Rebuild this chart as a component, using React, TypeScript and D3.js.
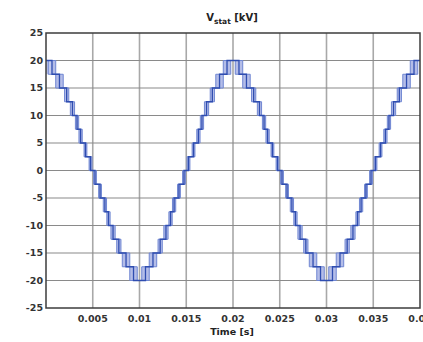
import React from 'react'
import { scaleLinear, line, curveStepAfter } from 'd3'

// step transitions of the staircase signal (ms)
const stepTimes = [
    0.64, 1.44, 2.21, 2.83, 3.32, 3.70, 4.22, 4.76, 5.24, 5.78, 6.30, 6.68, 7.17, 7.79, 8.56, 9.36,
    10.64, 11.44, 12.21, 12.83, 13.32, 13.70, 14.22, 14.76, 15.24, 15.78, 16.30, 16.68, 17.17, 17.79, 18.56, 19.36,
    20.64, 21.44, 22.21, 22.83, 23.32, 23.70, 24.22, 24.76, 25.24, 25.78, 26.30, 26.68, 27.17, 27.79, 28.56, 29.36,
    30.64, 31.44, 32.21, 32.83, 33.32, 33.70, 34.22, 34.76, 35.24, 35.78, 36.30, 36.68, 37.17, 37.79, 38.56, 39.36,
]
// level after each transition (kV)
const stepLevels = [
    17.5, 15, 12.5, 10, 7.5, 5, 2.5, 0, -2.5, -5, -7.5, -10, -12.5, -15, -17.5, -20,
    -17.5, -15, -12.5, -10, -7.5, -5, -2.5, 0, 2.5, 5, 7.5, 10, 12.5, 15, 17.5, 20,
    17.5, 15, 12.5, 10, 7.5, 5, 2.5, 0, -2.5, -5, -7.5, -10, -12.5, -15, -17.5, -20,
    -17.5, -15, -12.5, -10, -7.5, -5, -2.5, 0, 2.5, 5, 7.5, 10, 12.5, 15, 17.5, 20,
]
// spread of the overlaid traces at each transition (ms)
const stepSpread = [
    0.8, 0.8, 0.45, 0.45, 0.35, 0.35, 0.3, 0.3, 0.3, 0.3, 0.35, 0.35, 0.45, 0.45, 0.8, 0.8,
    0.8, 0.8, 0.45, 0.45, 0.35, 0.35, 0.3, 0.3, 0.3, 0.3, 0.35, 0.35, 0.45, 0.45, 0.8, 0.8,
    0.8, 0.8, 0.45, 0.45, 0.35, 0.35, 0.3, 0.3, 0.3, 0.3, 0.35, 0.35, 0.45, 0.45, 0.8, 0.8,
    0.8, 0.8, 0.45, 0.45, 0.35, 0.35, 0.3, 0.3, 0.3, 0.3, 0.35, 0.35, 0.45, 0.45, 0.8, 0.8,
]
const startLevel = 20

const xTicks = [0.005, 0.01, 0.015, 0.02, 0.025, 0.03, 0.035, 0.04]
const yTicks = [25, 20, 15, 10, 5, 0, -5, -10, -15, -20, -25]

const W = 423
const H = 342
const margin = { left: 46, right: 420, top: 33, bottom: 308 }
const font = '"DejaVu Sans", Verdana, sans-serif'

const App = () => {
    const x = scaleLinear().domain([0, 0.04]).range([margin.left, margin.right])
    const y = scaleLinear().domain([-25, 25]).range([margin.bottom, margin.top])

    // one trace shifted inside the spread band (k = -0.5 .. 0.5)
    const trace = (k: number) => {
        const pts: [number, number][] = [[0, startLevel]]
        stepTimes.forEach((t, i) => pts.push([(t + k * stepSpread[i]) / 1000, stepLevels[i]]))
        pts.push([0.04, stepLevels[stepLevels.length - 1]])
        return line<[number, number]>()
            .x(d => x(d[0]))
            .y(d => y(d[1]))
            .curve(curveStepAfter)(pts) || ''
    }

    return (
        <svg width={W} height={H} style={{ position: 'absolute', left: 0, top: 0, background: 'white' }}>
            {/* grid */}
            {xTicks.slice(0, -1).map(t => (
                <line key={'gx' + t} x1={x(t)} x2={x(t)} y1={margin.top} y2={margin.bottom}
                    stroke="#a8a8a8" strokeWidth={1.6} />
            ))}
            {yTicks.slice(1, -1).map(v => (
                <line key={'gy' + v} x1={margin.left} x2={margin.right} y1={y(v)} y2={y(v)}
                    stroke="#8a8a8a" strokeWidth={1.1} />
            ))}

            {/* spread bands */}
            {stepTimes.map((t, i) => {
                const prev = i === 0 ? startLevel : stepLevels[i - 1]
                const x0 = x((t - stepSpread[i] / 2) / 1000)
                const x1 = x((t + stepSpread[i] / 2) / 1000)
                return (
                    <rect key={'b' + i} x={x0} width={x1 - x0}
                        y={y(Math.max(prev, stepLevels[i]))}
                        height={Math.abs(y(prev) - y(stepLevels[i]))}
                        fill="#b4bde8" />
                )
            })}
            <rect x={x(0)} width={x(stepTimes[0] / 1000) - x(0)} y={y(20)} height={y(17.5) - y(20)} fill="#c3cbef" />

            <path d={trace(-0.5)} fill="none" stroke="#6f86d2" strokeWidth={1} />
            <path d={trace(0.5)} fill="none" stroke="#6f86d2" strokeWidth={1} />
            <path d={trace(0)} fill="none" stroke="#2f4db0" strokeWidth={1.3} />

            {/* frame */}
            <rect x={margin.left} y={margin.top} width={margin.right - margin.left} height={margin.bottom - margin.top}
                fill="none" stroke="#3c3c3c" strokeWidth={1.5} />

            {/* y labels */}
            {yTicks.map(v => (
                <text key={'ty' + v} x={43} y={y(v)} dy="0.35em" textAnchor="end"
                    fontFamily={font} fontWeight="bold" fontSize={9.5} fill="#333">{v}</text>
            ))}
            {/* x labels */}
            {xTicks.map(t => (
                <text key={'tx' + t} x={x(t)} y={322} textAnchor="middle"
                    fontFamily={font} fontWeight="bold" fontSize={9.5} fill="#333">{t}</text>
            ))}

            <text x={232} y={21} textAnchor="middle" fontFamily={font} fontWeight="bold" fontSize={10} fill="#222">
                V<tspan fontSize={7.5} dy={3}>stat</tspan><tspan dy={-3}> [kV]</tspan>
            </text>
            <text x={232} y={335} textAnchor="middle" fontFamily={font} fontWeight="bold" fontSize={9.5} fill="#222">
                Time [s]
            </text>
        </svg>
    )
}

export default App
